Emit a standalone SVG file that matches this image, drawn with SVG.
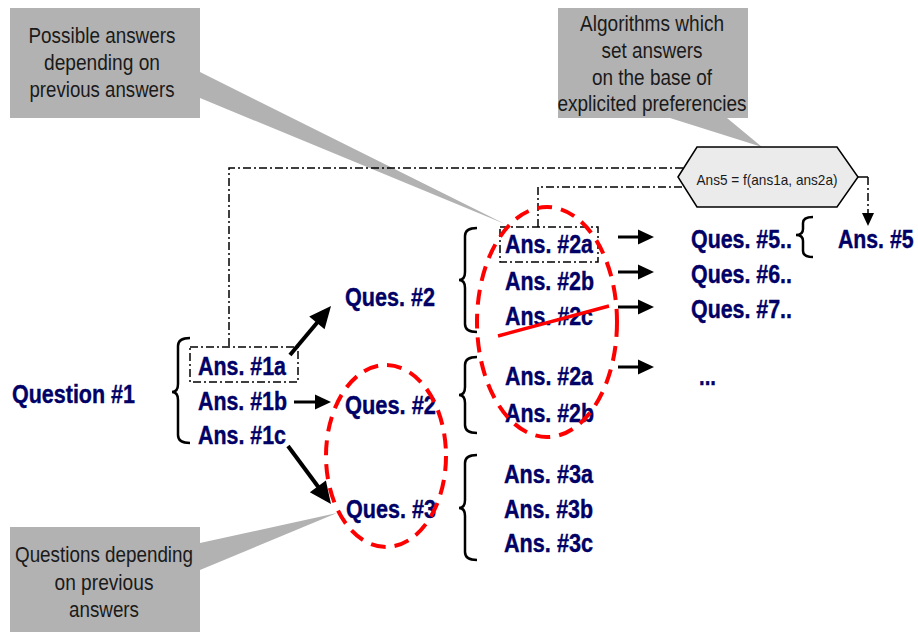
<svg xmlns="http://www.w3.org/2000/svg" width="918" height="632" viewBox="0 0 918 632">
<style>
.t{font-family:"Liberation Sans",Arial,sans-serif;font-weight:bold;font-size:25px;fill:#000066;stroke:#000066;stroke-width:0.4}
.c{font-family:"Liberation Sans",Arial,sans-serif;font-size:22px;fill:#1a1a1a;text-anchor:middle}
.h{font-family:"Liberation Sans",Arial,sans-serif;font-size:15px;fill:#1a1a1a;text-anchor:middle}
.box{fill:#b2b2b2}
.dd{fill:none;stroke:#000;stroke-width:1.5;stroke-dasharray:8 3 2 3}
.br{fill:none;stroke:#000;stroke-width:2.5}
.red{fill:none;stroke:#ff0000;stroke-width:4;stroke-dasharray:15 9}
.a4{stroke:#000;stroke-width:4;fill:none}
.a3{stroke:#000;stroke-width:3;fill:none}
.a1{stroke:#000;stroke-width:1.5;fill:none}
</style>
<defs>
<marker id="big" markerUnits="userSpaceOnUse" markerWidth="30" markerHeight="30" refX="12" refY="10" orient="auto" overflow="visible"><path d="M0,0 L22,10 L0,20 z" fill="#000"/></marker>
<marker id="mid" markerUnits="userSpaceOnUse" markerWidth="20" markerHeight="20" refX="8" refY="7.5" orient="auto" overflow="visible"><path d="M0,0 L16,7.5 L0,15 z" fill="#000"/></marker>
<marker id="sm" markerUnits="userSpaceOnUse" markerWidth="16" markerHeight="16" refX="7" refY="6" orient="auto" overflow="visible"><path d="M0,0 L13,6 L0,12 z" fill="#000"/></marker>
</defs>
<rect width="918" height="632" fill="#fff"/>

<g id="callout-possible">
<polygon class="box" points="10,8 200,8 200,72 505,224 200,98 200,118 10,118"/>
<text class="c" x="102" y="43" textLength="147" lengthAdjust="spacingAndGlyphs">Possible answers</text>
<text class="c" x="102" y="70" textLength="116" lengthAdjust="spacingAndGlyphs">depending on</text>
<text class="c" x="102" y="97" textLength="145" lengthAdjust="spacingAndGlyphs">previous answers</text>
</g>
<g id="callout-algorithms">
<polygon class="box" points="558,8 748,8 748,118 727,118 762,147 670,118 558,118"/>
<text class="c" x="652" y="31" textLength="144" lengthAdjust="spacingAndGlyphs">Algorithms which</text>
<text class="c" x="652" y="58" textLength="101" lengthAdjust="spacingAndGlyphs">set answers</text>
<text class="c" x="652" y="85" textLength="120" lengthAdjust="spacingAndGlyphs">on the base of</text>
<text class="c" x="652" y="111" textLength="189" lengthAdjust="spacingAndGlyphs">explicited preferencies</text>
</g>
<g id="callout-questions">
<polygon class="box" points="10,527 200,527 200,543 337,513 200,570 200,632 10,632"/>
<text class="c" x="104" y="562" textLength="178" lengthAdjust="spacingAndGlyphs">Questions depending</text>
<text class="c" x="104" y="590" textLength="99" lengthAdjust="spacingAndGlyphs">on previous</text>
<text class="c" x="104" y="617" textLength="70" lengthAdjust="spacingAndGlyphs">answers</text>
</g>

<g id="connectors">
<path class="dd" d="M229,346 V168 H684"/>
<path class="dd" d="M538,227 V187 H684"/>
<path class="a1" d="M858,177 H868" />
<path class="dd" d="M868,177 V220" marker-end="url(#sm)"/>
<line class="a4" x1="290" y1="355" x2="324.6" y2="313.7" marker-end="url(#big)"/>
<line class="a3" x1="294" y1="402" x2="323" y2="402" marker-end="url(#mid)"/>
<line class="a4" x1="288" y1="446" x2="325" y2="496" marker-end="url(#big)"/>
<line class="a3" x1="618" y1="237" x2="646" y2="237" marker-end="url(#mid)"/>
<line class="a3" x1="618" y1="272" x2="646" y2="272" marker-end="url(#mid)"/>
<line class="a3" x1="618" y1="307" x2="646" y2="307" marker-end="url(#mid)"/>
<line class="a3" x1="618" y1="367" x2="646" y2="367" marker-end="url(#mid)"/>
</g>

<g id="hexagon">
<polygon points="678,177 697,147 837,147 858,177 837,207 697,207" fill="#ebebeb" stroke="#000" stroke-width="1.5"/>
<text class="h" x="767" y="185" textLength="141" lengthAdjust="spacingAndGlyphs">Ans5 = f(ans1a, ans2a)</text>
</g>

<g id="question1">
<text class="t" x="12" y="403" textLength="123" lengthAdjust="spacingAndGlyphs">Question #1</text>
<path class="br" d="M190,338 Q178,338 178,346 V384 Q178,392 172,392 Q178,392 178,400 V435 Q178,443 190,443"/>
</g>
<g id="ans1">
<rect class="dd" x="190" y="347" width="108" height="35"/>
<text class="t" x="198" y="375" textLength="88" lengthAdjust="spacingAndGlyphs">Ans. #1a</text>
<text class="t" x="198" y="410" textLength="89" lengthAdjust="spacingAndGlyphs">Ans. #1b</text>
<text class="t" x="198" y="444" textLength="88" lengthAdjust="spacingAndGlyphs">Ans. #1c</text>
</g>
<g id="ques2a"><text class="t" x="345" y="306" textLength="90" lengthAdjust="spacingAndGlyphs">Ques. #2</text></g>
<g id="ques2b"><text class="t" x="345" y="414" textLength="91" lengthAdjust="spacingAndGlyphs">Ques. #2</text></g>
<g id="ques3"><text class="t" x="346" y="518" textLength="90" lengthAdjust="spacingAndGlyphs">Ques. #3</text></g>

<g id="ans2-upper">
<path class="br" d="M477,228 Q465,228 465,236 V272 Q465,280 459,280 Q465,280 465,288 V324 Q465,332 477,332"/>
<rect class="dd" x="500" y="227" width="98" height="35"/>
<text class="t" x="505" y="253" textLength="88" lengthAdjust="spacingAndGlyphs">Ans. #2a</text>
<text class="t" x="505" y="290" textLength="89" lengthAdjust="spacingAndGlyphs">Ans. #2b</text>
<text class="t" x="505" y="325" textLength="88" lengthAdjust="spacingAndGlyphs">Ans. #2c</text>
</g>
<g id="ans2-lower">
<path class="br" d="M477,357 Q465,357 465,365 V387 Q465,395 459,395 Q465,395 465,403 V425 Q465,433 477,433"/>
<text class="t" x="505" y="385" textLength="88" lengthAdjust="spacingAndGlyphs">Ans. #2a</text>
<text class="t" x="505" y="422" textLength="89" lengthAdjust="spacingAndGlyphs">Ans. #2b</text>
</g>
<g id="ans3">
<path class="br" d="M477,455 Q465,455 465,463 V500 Q465,508 459,508 Q465,508 465,516 V552 Q465,560 477,560"/>
<text class="t" x="504" y="483" textLength="89" lengthAdjust="spacingAndGlyphs">Ans. #3a</text>
<text class="t" x="504" y="518" textLength="89" lengthAdjust="spacingAndGlyphs">Ans. #3b</text>
<text class="t" x="504" y="552" textLength="89" lengthAdjust="spacingAndGlyphs">Ans. #3c</text>
</g>
<g id="ques5"><text class="t" x="691" y="248" textLength="101" lengthAdjust="spacingAndGlyphs">Ques. #5..</text>
<path class="br" d="M813,217 Q803,217 803,223 V229 Q803,235 796,235 Q803,235 803,241 V251 Q803,257 813,257"/></g>
<g id="ques6"><text class="t" x="691" y="283" textLength="101" lengthAdjust="spacingAndGlyphs">Ques. #6..</text></g>
<g id="ques7"><text class="t" x="691" y="318" textLength="101" lengthAdjust="spacingAndGlyphs">Ques. #7..</text></g>
<g id="more"><text class="t" x="699" y="385" textLength="17" lengthAdjust="spacingAndGlyphs">...</text></g>
<g id="ans5"><text class="t" transform="translate(838,248) scale(0.85,1)" x="0" y="0">Ans. #5</text></g>

<g id="highlights">
<ellipse class="red" cx="386" cy="456" rx="60" ry="91"/>
<ellipse class="red" cx="547" cy="322" rx="70" ry="115"/>
<line x1="498" y1="336" x2="609" y2="306" stroke="#ff0000" stroke-width="3.5"/>
</g>
</svg>
